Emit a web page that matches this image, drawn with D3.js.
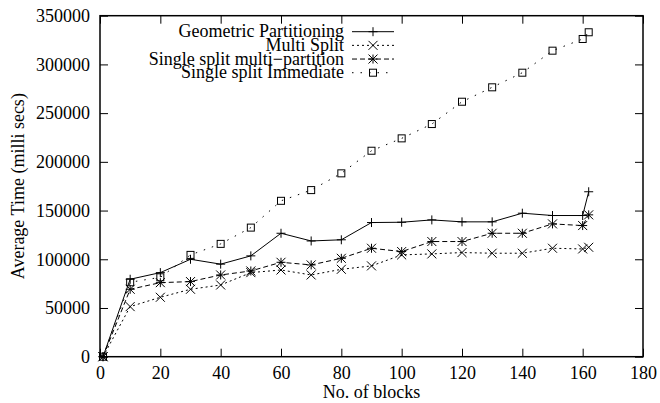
<!DOCTYPE html>
<html>
<head>
<meta charset="utf-8">
<script src="https://cdn.jsdelivr.net/npm/d3@7"></script>
<style>
  body { margin:0; background:#fff; }
  svg text { font-family:"Liberation Serif","Times New Roman",serif; fill:#000; }
</style>
</head>
<body>
<div class="chart-sec"></div>
<script>
(function(){
	'use strict';

	// x values (no. of blocks)
	var blocks = [1,10,20,30,40,50,60,70,80,90,100,110,120,130,140,150,160,162];

	var geometric = [0,79500,86300,100000,95000,103500,126700,118800,120000,137700,138000,140400,138400,138400,147300,144900,144900,169300];
	var multiSplit = [0,51400,61000,69200,73600,86300,89000,83900,89700,93200,104500,105500,106900,106200,106200,111300,110600,112300];
	var singleMulti = [0,69200,76000,77100,83900,88000,96900,94200,101000,111300,107900,118200,118200,126700,126700,136300,134600,145600];
	var singleImmediate = [0,76400,81500,104500,115800,132500,160000,171000,188200,211400,224100,238800,261700,276500,291500,314100,326100,333000];

	var seriesNames = ['Geometric Partitioning','Multi Split','Single split multi\u2212partition','Single split Immediate'];
	var xTicks = [0,20,40,60,80,100,120,140,160,180];
	var yTicks = [0,50000,100000,150000,200000,250000,300000,350000];

	var W = 660, H = 403;
	var left = 100, right = 643, top = 15.7, bottom = 356.7;

	var svg = d3.select('.chart-sec').append('svg')
		.attr('width',W).attr('height',H);

	var x = d3.scaleLinear().domain([0,180]).range([left,right]);
	var y = d3.scaleLinear().domain([0,350000]).range([bottom,top]);

	var styles = [
		{data:geometric, dash:null, mark:'plus'},
		{data:multiSplit, dash:'2,3', mark:'cross'},
		{data:singleMulti, dash:'5,3', mark:'star'},
		{data:singleImmediate, dash:'1.5,7', mark:'square'}
	];

	// axes, gnuplot style: ticks inward + mirrored
	var tl = 8;
	var bx = d3.axisBottom(x).tickValues(xTicks).tickSizeInner(-tl).tickSizeOuter(0).tickPadding(9.5);
	var ly = d3.axisLeft(y).tickValues(yTicks).tickSizeInner(-tl).tickSizeOuter(0).tickPadding(10).tickFormat(d3.format('d'));
	var tx = d3.axisTop(x).tickValues(xTicks).tickSizeInner(-tl).tickSizeOuter(0).tickFormat('');
	var ry = d3.axisRight(y).tickValues(yTicks).tickSizeInner(-tl).tickSizeOuter(0).tickFormat('');

	svg.append('g').attr('transform','translate(0,'+bottom+')').call(bx);
	svg.append('g').attr('transform','translate('+left+',0)').call(ly);
	svg.append('g').attr('transform','translate(0,'+top+')').call(tx);
	svg.append('g').attr('transform','translate('+right+',0)').call(ry);

	svg.selectAll('.domain').remove();
	svg.selectAll('.tick line').attr('stroke','#000').attr('stroke-width',1);
	svg.selectAll('.tick text').attr('font-size',18).attr('font-family','Liberation Serif');

	// frame
	svg.append('rect').attr('x',left).attr('y',top)
		.attr('width',right-left).attr('height',bottom-top)
		.attr('fill','none').attr('stroke','#000').attr('stroke-width',1.5);

	// axis labels
	svg.append('text').attr('x',(left+right)/2).attr('y',398)
		.attr('text-anchor','middle').attr('font-size',18).text('No. of blocks');
	svg.append('text').attr('transform','translate(24,'+((top+bottom)/2)+') rotate(-90)')
		.attr('text-anchor','middle').attr('font-size',18).text('Average Time (milli secs)');

	function drawMark(g,kind,cx,cy){
		var s = 4.5;
		if(kind=='plus'){
			g.append('path').attr('d','M'+(cx-s)+','+cy+'H'+(cx+s)+'M'+cx+','+(cy-s)+'V'+(cy+s));
		} else if(kind=='cross'){
			g.append('path').attr('d','M'+(cx-s)+','+(cy-s)+'L'+(cx+s)+','+(cy+s)+'M'+(cx-s)+','+(cy+s)+'L'+(cx+s)+','+(cy-s));
		} else if(kind=='star'){
			g.append('path').attr('d','M'+(cx-s)+','+cy+'H'+(cx+s)+'M'+cx+','+(cy-s)+'V'+(cy+s)+
				'M'+(cx-s)+','+(cy-s)+'L'+(cx+s)+','+(cy+s)+'M'+(cx-s)+','+(cy+s)+'L'+(cx+s)+','+(cy-s));
		} else {
			g.append('rect').attr('x',cx-3.5).attr('y',cy-3.5).attr('width',7).attr('height',7);
		}
	}

	var line = d3.line().x(function(d){ return x(d[0]); }).y(function(d){ return y(d[1]); });

	styles.forEach(function(st,i){
		var pts = blocks.map(function(b,j){ return [b,st.data[j]]; });
		var g = svg.append('g').attr('fill','none').attr('stroke','#000').attr('stroke-width',1);
		g.append('path').datum(pts).attr('d',line).attr('stroke-dasharray',st.dash);
		pts.forEach(function(p){ drawMark(g,st.mark,x(p[0]),y(p[1])); });

		// legend row (rows overlap in the original too)
		var ly0 = 31.7 + i*13.67;
		svg.append('text').attr('x',344).attr('y',ly0+5.5)
			.attr('text-anchor','end').attr('font-size',18).text(seriesNames[i]);
		var lg = svg.append('g').attr('fill','none').attr('stroke','#000').attr('stroke-width',1);
		lg.append('path').attr('d','M352,'+ly0+'H394').attr('stroke-dasharray',st.dash);
		drawMark(lg,st.mark,373,ly0);
	});

})();
</script>
</body>
</html>
